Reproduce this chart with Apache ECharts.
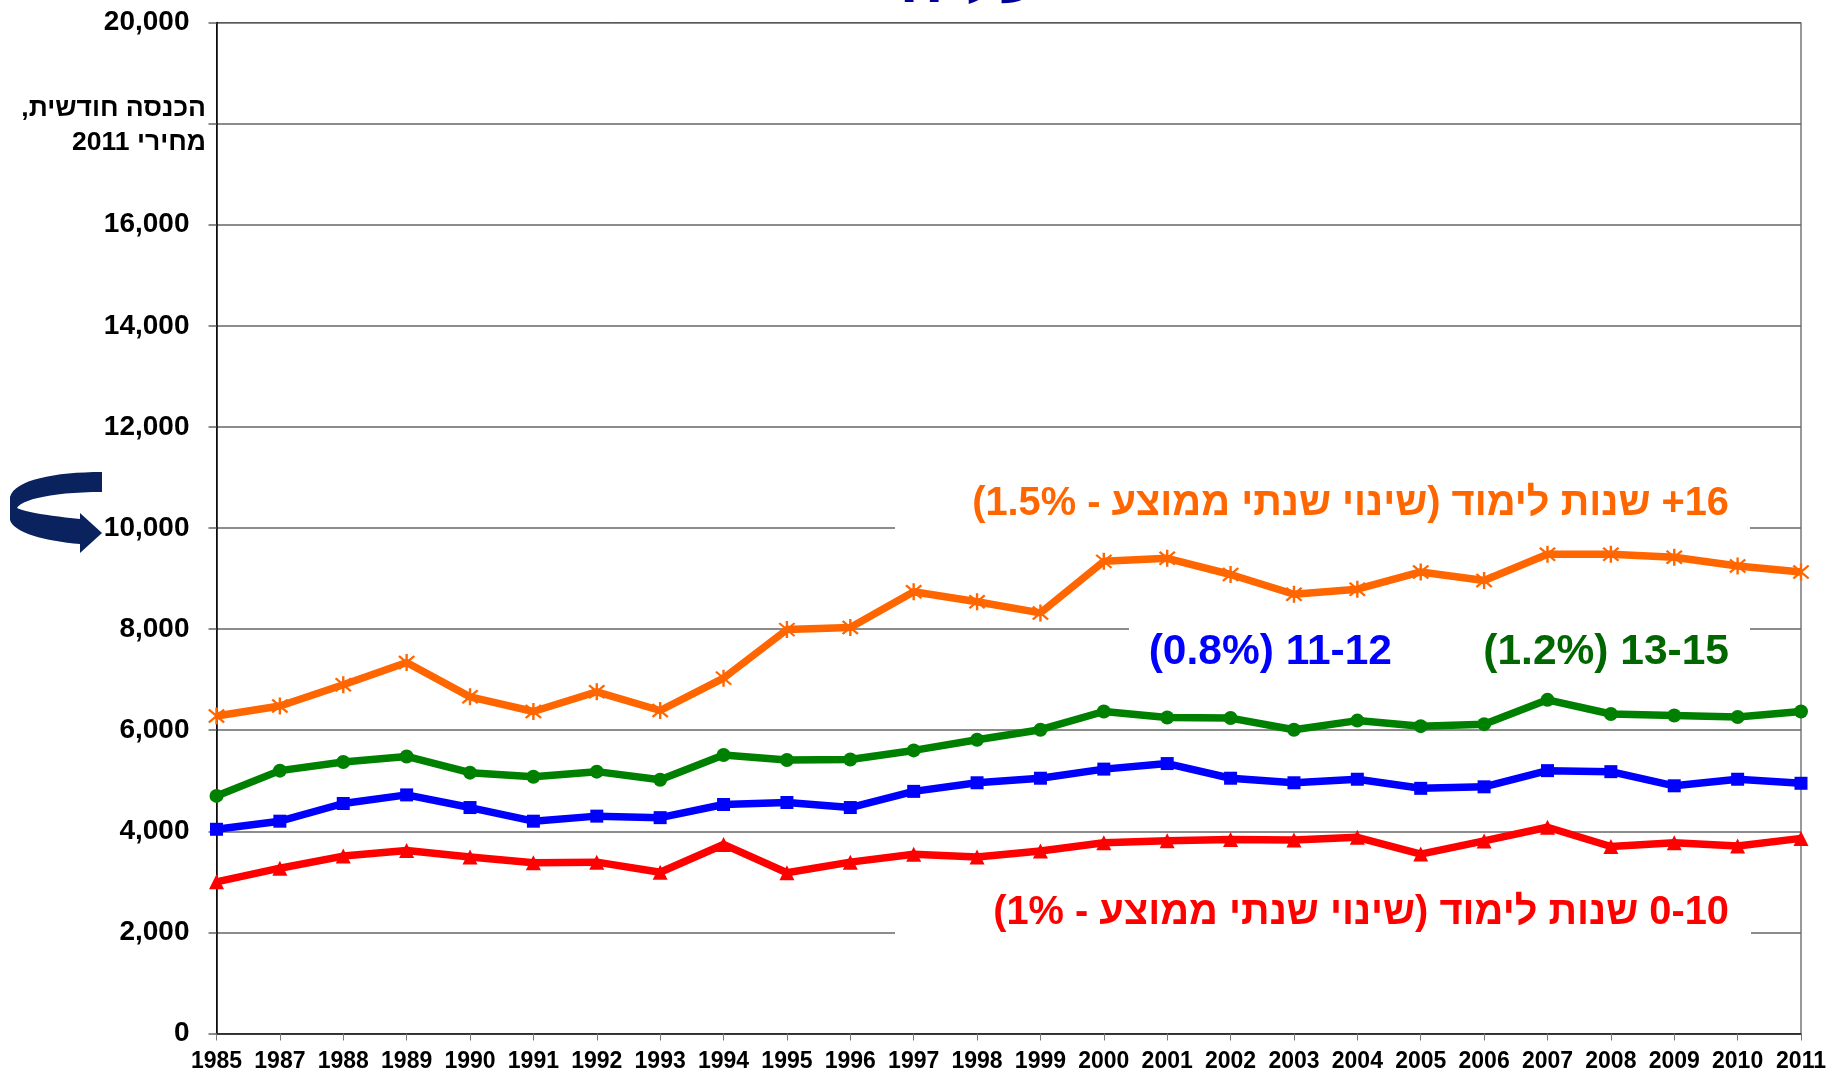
<!DOCTYPE html>
<html>
<head>
<meta charset="utf-8">
<script src="https://cdn.jsdelivr.net/npm/echarts@6/dist/echarts.min.js"></script>
<style>
html,body{margin:0;padding:0;background:#fff;}
#chart{width:1834px;height:1074px;direction:rtl;}
</style>
</head>
<body>
<div id="chart"></div>
<script>
var years = ['1985','1987','1988','1989','1990','1991','1992','1993','1994','1995','1996','1997','1998','1999','2000','2001','2002','2003','2004','2005','2006','2007','2008','2009','2010','2011'];
var hiddenTick = 18000;
var edu16plus = [6280,6480,6900,7340,6660,6370,6760,6390,7030,7990,8030,8740,8540,8320,9340,9400,9080,8690,8790,9130,8960,9480,9480,9420,9250,9130];
var edu13to15 = [4700,5200,5370,5480,5160,5080,5180,5020,5510,5410,5420,5600,5810,6010,6370,6250,6240,6010,6190,6080,6120,6600,6320,6290,6260,6370];
var edu11to12 = [4040,4200,4550,4720,4470,4200,4300,4270,4530,4570,4470,4790,4960,5050,5230,5340,5050,4960,5030,4850,4880,5200,5180,4900,5030,4950];
var edu0to10  = [3000,3270,3510,3620,3490,3380,3390,3190,3740,3180,3390,3545,3490,3610,3775,3815,3840,3830,3880,3550,3810,4080,3700,3775,3710,3860];

var labelOrange = '16+ שנות לימוד (שינוי שנתי ממוצע - 1.5%)';
var labelGreen = '13-15 (1.2%)';
var labelBlue = '11-12 (0.8%)';
var labelRed = '0-10 שנות לימוד (שינוי שנתי ממוצע - 1%)';
var yTitle1 = 'הכנסה חודשית,';
var yTitle2 = 'מחירי 2011';
var titleFragment = 'עליה';

var FONT = '"Liberation Sans", Arial, "DejaVu Sans", sans-serif';
var asterisk = 'path://M-1.2,-10 L1.2,-10 L1.2,10 L-1.2,10 Z M-8.5,-6.8 L-6.8,-8.5 L8.5,6.8 L6.8,8.5 Z M6.8,-8.5 L8.5,-6.8 L-6.8,8.5 L-8.5,6.8 Z';

// decorative curved arrow outline (sampled cubic curves)
function cubic(p0, p1, p2, p3, n) {
  var out = [];
  for (var i = 1; i <= n; i++) {
    var t = i / n, u = 1 - t;
    out.push([
      u*u*u*p0[0] + 3*u*u*t*p1[0] + 3*u*t*t*p2[0] + t*t*t*p3[0],
      u*u*u*p0[1] + 3*u*u*t*p1[1] + 3*u*t*t*p2[1] + t*t*t*p3[1]
    ]);
  }
  return out;
}
var arrowPts = [[102,472]]
  .concat(cubic([102,472],[55,472],[14,480],[10,497],16))
  .concat([[10,520]])
  .concat(cubic([10,520],[14,533],[45,541],[80,544],16))
  .concat([[80,553],[102,533],[80,513],[80,519]])
  .concat(cubic([80,519],[50,516],[25,512],[17,508],12))
  .concat(cubic([17,508],[22,499],[55,492],[102,492],14));

var chart = echarts.init(document.getElementById('chart'), null, {renderer:'canvas'});

function mkSeries(name, data, color, symbol, size) {
  return {
    name: name, type: 'line', data: data,
    symbol: symbol, symbolSize: size, showSymbol: true,
    lineStyle: {color: color, width: 7.5},
    itemStyle: {color: color},
    emphasis: {disabled: true},
    z: 2
  };
}

var option = {
  animation: false,
  backgroundColor: '#ffffff',
  grid: {left: 216.5, right: 33, top: 22.5, bottom: 40.5, show: true, borderColor: '#333', borderWidth: 1, backgroundColor: 'transparent'},
  xAxis: {
    type: 'category', data: years, boundaryGap: false,
    axisLine: {lineStyle: {color: '#222', width: 1.5}},
    axisTick: {show: true, length: 7, lineStyle: {color: '#777', width: 1}, interval: 0},
    axisLabel: {interval: 0, hideOverlap: false, margin: 17, fontSize: 23, fontWeight: 'bold', color: '#000', fontFamily: FONT},
    splitLine: {show: false}
  },
  yAxis: {
    type: 'value', min: 0, max: 20000, interval: 2000,
    axisLine: {show: true, lineStyle: {color: '#000', width: 1.5}},
    axisTick: {show: true, length: 8, lineStyle: {color: '#666', width: 1.5}},
    axisLabel: {
      margin: 27, fontSize: 28, fontWeight: 'bold', color: '#000', fontFamily: FONT,
      formatter: function (v) { return v === hiddenTick ? '' : v.toLocaleString('en-US'); }
    },
    splitLine: {show: true, lineStyle: {color: '#666', width: 1.5}}
  },
  series: [
    mkSeries('16+', edu16plus, '#FF6600', asterisk, 17),
    mkSeries('13-15', edu13to15, '#008000', 'circle', 14),
    mkSeries('11-12', edu11to12, '#0000FF', 'rect', 13),
    mkSeries('0-10', edu0to10, '#FF0000', 'triangle', 15)
  ],
  graphic: [
    {type: 'rect', z: 1, shape: {x: 895, y: 478, width: 855, height: 58}, style: {fill: '#fff'}},
    {type: 'rect', z: 1, shape: {x: 1129, y: 620, width: 621, height: 60}, style: {fill: '#fff'}},
    {type: 'rect', z: 1, shape: {x: 895, y: 884, width: 856, height: 56}, style: {fill: '#fff'}},
    {type: 'text', z: 5, x: 1729, y: 504, style: {text: labelOrange, fill: '#FF6600', font: 'bold 39.8px ' + FONT, textAlign: 'right', textVerticalAlign: 'middle'}},
    {type: 'text', z: 5, x: 1392, y: 652, style: {text: labelBlue, fill: '#0000FF', font: 'bold 42.5px ' + FONT, textAlign: 'right', textVerticalAlign: 'middle'}},
    {type: 'text', z: 5, x: 1729, y: 652, style: {text: labelGreen, fill: '#006600', font: 'bold 42.5px ' + FONT, textAlign: 'right', textVerticalAlign: 'middle'}},
    {type: 'text', z: 5, x: 1729, y: 913, style: {text: labelRed, fill: '#FF0000', font: 'bold 39.8px ' + FONT, textAlign: 'right', textVerticalAlign: 'middle'}},
    {type: 'text', z: 5, x: 206, y: 109, style: {text: yTitle1, fill: '#000', font: 'bold 26.5px ' + FONT, textAlign: 'right', textVerticalAlign: 'middle'}},
    {type: 'text', z: 5, x: 206, y: 143, style: {text: yTitle2, fill: '#000', font: 'bold 26.5px ' + FONT, textAlign: 'right', textVerticalAlign: 'middle'}},
    {type: 'text', z: 5, x: 1041, y: -16, style: {text: titleFragment, fill: '#000099', font: 'bold 66px ' + FONT, textAlign: 'right', textVerticalAlign: 'middle'}},
    {type: 'polygon', z: 10, shape: {points: arrowPts}, style: {fill: '#0a225e'}}
  ]
};
chart.setOption(option);
</script>
</body>
</html>
